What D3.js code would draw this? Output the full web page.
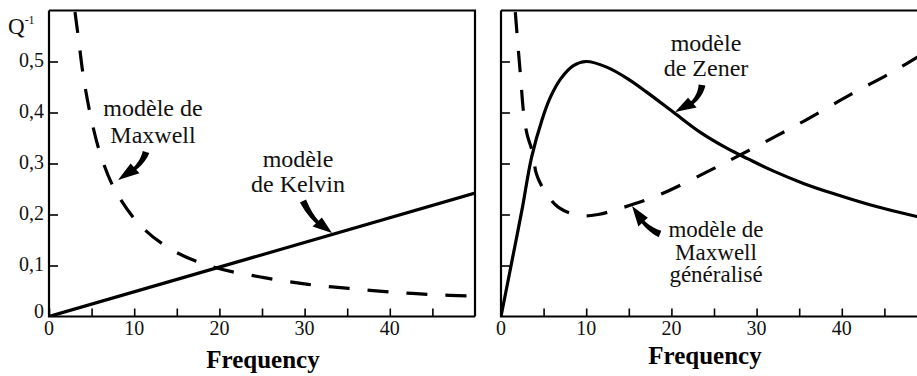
<!DOCTYPE html>
<html>
<head>
<meta charset="utf-8">
<script src="https://cdn.jsdelivr.net/npm/d3@7"></script>
<style>
  body { margin: 0; background: #fff; }
  svg { display: block; }
</style>
</head>
<body>
<svg id="chart" width="917" height="376"></svg>
<script>
// values
const xTicks = [0, 5, 10, 15, 20, 25, 30, 35, 40, 45];
const xTickLabels = ['0', '10', '20', '30', '40'];
const yTicks = [0, 0.1, 0.2, 0.3, 0.4, 0.5];
const yTickLabels = ['0', '0,1', '0,2', '0,3', '0,4', '0,5'];

// left panel
const kelvinFreq = [0, 50];
const kelvinQ = [0, 0.242];
const maxwellFreq = [3.05, 3.5, 4, 4.8, 6, 7.75, 10.7, 14.5, 19.3, 25, 30.4, 35.2, 40.2, 45, 50];
const maxwellQ = [0.597, 0.54, 0.475, 0.40, 0.32, 0.248, 0.179, 0.13, 0.097, 0.077, 0.063, 0.055, 0.048, 0.043, 0.040];

// right panel
const zenerFreq = [0, 1.3, 2.45, 3.6, 4.8, 5.8, 7, 8.5, 10, 12.4, 14.8, 17.1, 20.2, 23.4, 26.5, 29, 32, 35.5, 39, 43.5, 48.8, 50];
const zenerQ = [0, 0.11, 0.208, 0.313, 0.385, 0.43, 0.466, 0.492, 0.5, 0.489, 0.467, 0.44, 0.401, 0.361, 0.33, 0.309, 0.285, 0.261, 0.241, 0.218, 0.196, 0.192];
const genMaxwellFreq = [1.68, 1.9, 2.3, 2.65, 3.05, 3.75, 4.15, 5.2, 6.75, 9.2, 11.4, 14, 18.5, 24, 28.2, 35, 41, 46, 50];
const genMaxwellQ = [0.597, 0.55, 0.47, 0.40, 0.358, 0.319, 0.28, 0.244, 0.214, 0.198, 0.2, 0.212, 0.238, 0.282, 0.318, 0.378, 0.435, 0.48, 0.52];

const svg = d3.select('#chart');
const yTop = 10.5, yBottom = 316.5;
const y = d3.scaleLinear().domain([0, 0.6]).range([yBottom, yTop]);

const panels = [
  { x0: 49, x1: 475, rightBorder: true, yLabels: true, labelX: 263, labelY: 368,
    series: [
      { f: kelvinFreq, q: kelvinQ, dash: null },
      { f: maxwellFreq, q: maxwellQ, dash: '21,18' }
    ] },
  { x0: 501, x1: 927, rightBorder: false, yLabels: false, labelX: 705, labelY: 364,
    series: [
      { f: zenerFreq, q: zenerQ, dash: null },
      { f: genMaxwellFreq, q: genMaxwellQ, dash: '21,18' }
    ] }
];

function label(sel, x, y, size, txt) {
  return sel.append('text').attr('x', x).attr('y', y)
    .style('font-family', 'Liberation Serif').attr('font-size', size).attr('fill', '#111').text(txt);
}

panels.forEach((p, i) => {
  const x = d3.scaleLinear().domain([0, 50]).range([p.x0, p.x1]);
  const g = svg.append('g');

  svg.append('clipPath').attr('id', 'clip' + i)
    .append('rect').attr('x', p.x0).attr('y', yTop).attr('width', p.x1 - p.x0).attr('height', yBottom - yTop);

  // curves
  const line = d3.line().x(d => x(d[0])).y(d => y(d[1])).curve(d3.curveCatmullRom.alpha(0.5));
  p.series.forEach(s => {
    g.append('path')
      .attr('clip-path', `url(#clip${i})`)
      .attr('d', line(d3.zip(s.f, s.q)))
      .attr('fill', 'none')
      .attr('stroke', '#000')
      .attr('stroke-width', 3.2)
      .attr('stroke-dasharray', s.dash);
  });

  // ticks (inward)
  g.append('g').attr('transform', `translate(0,${yBottom})`)
    .call(d3.axisTop(x).tickValues(xTicks).tickSize(8).tickFormat(''))
    .call(a => a.select('.domain').remove())
    .call(a => a.selectAll('line').attr('stroke', '#000').attr('stroke-width', 1.6));
  g.append('g').attr('transform', `translate(${p.x0},0)`)
    .call(d3.axisRight(y).tickValues(yTicks.slice(1)).tickSize(9).tickFormat(''))
    .call(a => a.select('.domain').remove())
    .call(a => a.selectAll('line').attr('stroke', '#000').attr('stroke-width', 1.6));

  // frame
  const frame = [[p.x0, yTop], [p.x0, yBottom], [p.x1, yBottom]];
  g.append('path').attr('d', d3.line()(frame)).attr('fill', 'none').attr('stroke', '#000').attr('stroke-width', 2.2);
  g.append('path').attr('d', d3.line()([[p.x0, yTop], [p.x1, yTop]].concat(p.rightBorder ? [[p.x1, yBottom]] : [])))
    .attr('fill', 'none').attr('stroke', '#000').attr('stroke-width', 2.2);

  // tick labels
  xTickLabels.forEach(d => {
    label(g, x(+d), 335, 20, d).attr('text-anchor', 'middle');
  });
  if (p.yLabels) {
    yTicks.forEach((d, k) => {
      label(g, 44, y(d) + (d === 0 ? 1 : 5), 20, yTickLabels[k]).attr('text-anchor', 'end');
    });
  }

  label(g, p.labelX, p.labelY, 25, 'Frequency')
    .attr('text-anchor', 'middle').attr('font-weight', 'bold').attr('fill', '#000');
});

// Q^-1 label
const q = label(svg, 8, 34, 23, null);
q.append('tspan').text('Q');
q.append('tspan').attr('font-size', 12).attr('dy', -10).text('-1');

// annotations
const notes = [
  { lines: ['modèle de', 'Maxwell'], x: 153, y: 116, dy: 27, size: 24 },
  { lines: ['modèle', 'de Kelvin'], x: 298, y: 167, dy: 25, size: 24 },
  { lines: ['modèle', 'de Zener'], x: 706, y: 51, dy: 25, size: 24 },
  { lines: ['modèle de', 'Maxwell', 'généralisé'], x: 716, y: 237, dy: 22.5, size: 23 }
];
notes.forEach(n => {
  n.lines.forEach((t, k) => {
    label(svg, n.x, n.y + k * n.dy, n.size, t).attr('text-anchor', 'middle');
  });
});

// curved wedge arrows: tail, control, tip
function arrowPath(p0, c, p1) {
  const pt = t => [
    (1 - t) * (1 - t) * p0[0] + 2 * (1 - t) * t * c[0] + t * t * p1[0],
    (1 - t) * (1 - t) * p0[1] + 2 * (1 - t) * t * c[1] + t * t * p1[1]
  ];
  const tan = t => {
    const dx = 2 * (1 - t) * (c[0] - p0[0]) + 2 * t * (p1[0] - c[0]);
    const dy = 2 * (1 - t) * (c[1] - p0[1]) + 2 * t * (p1[1] - c[1]);
    const l = Math.hypot(dx, dy);
    return [dx / l, dy / l];
  };
  const tHead = 0.55, left = [], right = [];
  for (let k = 0; k <= 12; k++) {
    const t = tHead * k / 12;
    const P = pt(t), T = tan(t), w = 3.4 - 1.6 * t / tHead;
    left.push([P[0] - T[1] * w, P[1] + T[0] * w]);
    right.push([P[0] + T[1] * w, P[1] - T[0] * w]);
  }
  const P = pt(tHead), T = tan(tHead), hw = 6.5;
  const head = [[P[0] - T[1] * hw, P[1] + T[0] * hw], p1, [P[0] + T[1] * hw, P[1] - T[0] * hw]];
  return d3.line()(left.concat(head, right.reverse())) + 'Z';
}
const arrows = [
  [[146, 152], [141, 168], [118, 180]],
  [[303, 201], [314, 224], [332, 233]],
  [[702, 85], [699, 104], [675, 112]],
  [[660, 234], [643, 227], [632, 206]]
];
arrows.forEach(a => {
  svg.append('path').attr('d', arrowPath(a[0], a[1], a[2])).attr('fill', '#000');
});
</script>
</body>
</html>
